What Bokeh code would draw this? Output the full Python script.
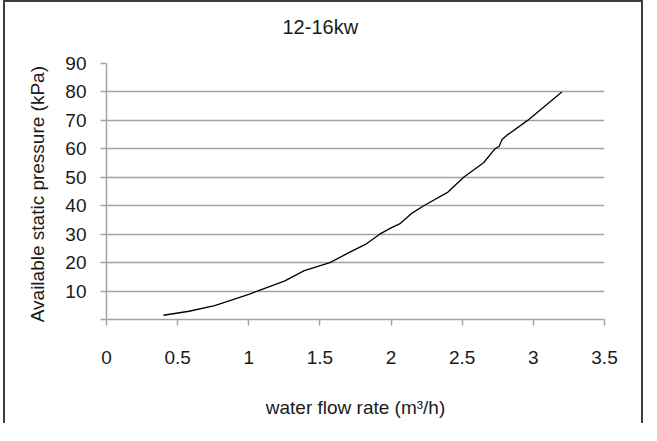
from bokeh.plotting import figure
from bokeh.models import Range1d, FixedTicker
from bokeh.embed import file_html
from bokeh.resources import INLINE

# ---- data ----
flow = [0.40, 0.58, 0.76, 1.00, 1.06, 1.25, 1.39, 1.57, 1.70, 1.82, 1.92,
        2.00, 2.06, 2.15, 2.23, 2.40, 2.51, 2.65, 2.73, 2.76, 2.78, 2.82, 2.96, 3.20]
pressure = [1.5, 2.9, 4.9, 8.8, 10.0, 13.5, 17.2, 20.0, 23.4, 26.4, 30.0,
            32.2, 33.6, 37.5, 40.0, 44.8, 50.0, 55.1, 60.0, 60.9, 63.3, 65.0, 70.0, 80.0]
x_ticks = [0, 0.5, 1, 1.5, 2, 2.5, 3, 3.5]
x_tick_labels = ["0", "0.5", "1", "1.5", "2", "2.5", "3", "3.5"]
y_ticks = [0, 10, 20, 30, 40, 50, 60, 70, 80, 90]
y_tick_labels = ["", "10", "20", "30", "40", "50", "60", "70", "80", "90"]
title_text = "12-16kw"
x_title = "water flow rate (m³/h)"
y_title = "Available  static pressure (kPa)"

FONT = "Liberation Sans"
GRID = "#a3a3a3"
TEXT = "#1a1a1a"

p = figure(width=640, height=423, output_backend="svg", toolbar_location=None,
           x_range=Range1d(0, 3.5), y_range=Range1d(0, 90),
           min_border_left=101, min_border_right=41,
           min_border_top=61, min_border_bottom=106,
           background_fill_color="white", border_fill_color="white")
p.outline_line_color = None
p.styles = {"border-top": "2px solid #3c3c3c", "border-left": "2px solid #3c3c3c",
            "border-right": "2px solid #3c3c3c", "margin-left": "3px"}

p.title.text = title_text
p.title.text_font = FONT
p.title.text_font_size = "20px"
p.title.text_font_style = "normal"
p.title.text_color = TEXT
p.title.align = "left"
p.title.offset = 176
p.title.standoff = 0
p.title.padding = dict(left=0, right=0, top=11, bottom=26)

p.line(flow, pressure, line_color="black", line_width=1.3)

xa = p.xaxis[0]
xa.ticker = FixedTicker(ticks=x_ticks)
xa.major_label_overrides = {t: l for t, l in zip(x_ticks, x_tick_labels)}
xa.axis_label = x_title
ya = p.yaxis[0]
ya.ticker = FixedTicker(ticks=y_ticks)
ya.major_label_overrides = {t: l for t, l in zip(y_ticks, y_tick_labels)}
ya.axis_label = y_title

for ax in (xa, ya):
    ax.axis_line_color = GRID
    ax.axis_line_width = 1.5
    ax.major_tick_line_color = GRID
    ax.major_tick_line_width = 1.5
    ax.major_tick_out = 6
    ax.major_tick_in = 0
    ax.minor_tick_line_color = None
    ax.major_label_text_font = FONT
    ax.major_label_text_font_size = "19px"
    ax.major_label_text_color = TEXT
    ax.axis_label_text_font = FONT
    ax.axis_label_text_font_size = "19px"
    ax.axis_label_text_font_style = "normal"
    ax.axis_label_text_color = TEXT

xa.major_label_standoff = 25
xa.axis_label_standoff = 30
ya.major_label_standoff = 14
ya.axis_label_standoff = 14

p.xgrid.grid_line_color = None
p.ygrid.grid_line_color = GRID
p.ygrid.grid_line_width = 1.5
p.ygrid.ticker = FixedTicker(ticks=y_ticks)

open("out.html", "w").write(file_html(p, INLINE))
